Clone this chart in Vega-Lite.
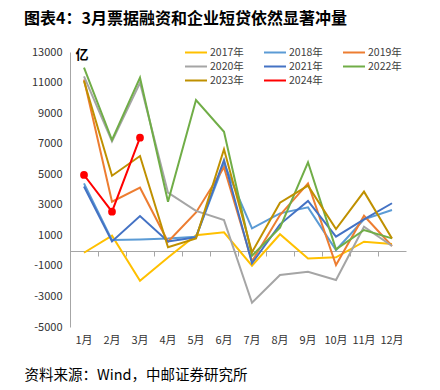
{
  "$schema": "https://vega.github.io/schema/vega-lite/v6.json",
  "width": 336,
  "height": 275,
  "autosize": "none",
  "padding": {"left": 70, "top": 52, "right": 34, "bottom": 63},
  "background": "white",
  "config": {"view": {"stroke": null}, "font": "Noto Sans CJK SC"},
  "title": {
    "text": "图表4：3月票据融资和企业短贷依然显著冲量",
    "anchor": "start",
    "frame": "group",
    "dx": -46,
    "offset": 19,
    "fontSize": 16,
    "fontWeight": "bold",
    "color": "#000000"
  },
  "data": {
    "values": [
      {"m": "1月", "y": "2017年", "v": -140}, {"m": "2月", "y": "2017年", "v": 975}, {"m": "3月", "y": "2017年", "v": -1970}, {"m": "4月", "y": "2017年", "v": -450}, {"m": "5月", "y": "2017年", "v": 1000}, {"m": "6月", "y": "2017年", "v": 1200}, {"m": "7月", "y": "2017年", "v": -990}, {"m": "8月", "y": "2017年", "v": 1070}, {"m": "9月", "y": "2017年", "v": -510}, {"m": "10月", "y": "2017年", "v": -440}, {"m": "11月", "y": "2017年", "v": 580}, {"m": "12月", "y": "2017年", "v": 430},
      {"m": "1月", "y": "2018年", "v": 4400}, {"m": "2月", "y": "2018年", "v": 690}, {"m": "3月", "y": "2018年", "v": 730}, {"m": "4月", "y": "2018年", "v": 790}, {"m": "5月", "y": "2018年", "v": 900}, {"m": "6月", "y": "2018年", "v": 5700}, {"m": "7月", "y": "2018年", "v": 1460}, {"m": "8月", "y": "2018年", "v": 2440}, {"m": "9月", "y": "2018年", "v": 2830}, {"m": "10月", "y": "2018年", "v": 40}, {"m": "11月", "y": "2018年", "v": 2050}, {"m": "12月", "y": "2018年", "v": 2660},
      {"m": "1月", "y": "2019年", "v": 11200}, {"m": "2月", "y": "2019年", "v": 3200}, {"m": "3月", "y": "2019年", "v": 4120}, {"m": "4月", "y": "2019年", "v": 580}, {"m": "5月", "y": "2019年", "v": 2500}, {"m": "6月", "y": "2019年", "v": 5450}, {"m": "7月", "y": "2019年", "v": -700}, {"m": "8月", "y": "2019年", "v": 2330}, {"m": "9月", "y": "2019年", "v": 4400}, {"m": "10月", "y": "2019年", "v": -940}, {"m": "11月", "y": "2019年", "v": 2280}, {"m": "12月", "y": "2019年", "v": 300},
      {"m": "1月", "y": "2020年", "v": 11400}, {"m": "2月", "y": "2020年", "v": 7150}, {"m": "3月", "y": "2020年", "v": 10990}, {"m": "4月", "y": "2020年", "v": 3790}, {"m": "5月", "y": "2020年", "v": 2600}, {"m": "6月", "y": "2020年", "v": 2000}, {"m": "7月", "y": "2020年", "v": -3410}, {"m": "8月", "y": "2020年", "v": -1600}, {"m": "9月", "y": "2020年", "v": -1380}, {"m": "10月", "y": "2020年", "v": -1925}, {"m": "11月", "y": "2020年", "v": 1565}, {"m": "12月", "y": "2020年", "v": 300},
      {"m": "1月", "y": "2021年", "v": 4200}, {"m": "2月", "y": "2021年", "v": 600}, {"m": "3月", "y": "2021年", "v": 2265}, {"m": "4月", "y": "2021年", "v": 600}, {"m": "5月", "y": "2021年", "v": 870}, {"m": "6月", "y": "2021年", "v": 5930}, {"m": "7月", "y": "2021年", "v": -830}, {"m": "8月", "y": "2021年", "v": 1720}, {"m": "9月", "y": "2021年", "v": 3250}, {"m": "10月", "y": "2021年", "v": 910}, {"m": "11月", "y": "2021年", "v": 2050}, {"m": "12月", "y": "2021年", "v": 3100},
      {"m": "1月", "y": "2022年", "v": 11970}, {"m": "2月", "y": "2022年", "v": 7240}, {"m": "3月", "y": "2022年", "v": 11320}, {"m": "4月", "y": "2022年", "v": 3200}, {"m": "5月", "y": "2022年", "v": 9860}, {"m": "6月", "y": "2022年", "v": 7780}, {"m": "7月", "y": "2022年", "v": -330}, {"m": "8月", "y": "2022年", "v": 1500}, {"m": "9月", "y": "2022年", "v": 5780}, {"m": "10月", "y": "2022年", "v": 85}, {"m": "11月", "y": "2022年", "v": 1350}, {"m": "12月", "y": "2022年", "v": 800},
      {"m": "1月", "y": "2023年", "v": 11100}, {"m": "2月", "y": "2023年", "v": 4900}, {"m": "3月", "y": "2023年", "v": 6190}, {"m": "4月", "y": "2023年", "v": 215}, {"m": "5月", "y": "2023年", "v": 800}, {"m": "6月", "y": "2023年", "v": 6630}, {"m": "7月", "y": "2023年", "v": -100}, {"m": "8月", "y": "2023年", "v": 3140}, {"m": "9月", "y": "2023年", "v": 4250}, {"m": "10月", "y": "2023年", "v": 1410}, {"m": "11月", "y": "2023年", "v": 3860}, {"m": "12月", "y": "2023年", "v": 800},
      {"m": "1月", "y": "2024年", "v": 4950}, {"m": "2月", "y": "2024年", "v": 2550}, {"m": "3月", "y": "2024年", "v": 7390}
    ]
  },
  "encoding": {
    "x": {
      "field": "m",
      "type": "ordinal",
      "sort": ["1月", "2月", "3月", "4月", "5月", "6月", "7月", "8月", "9月", "10月", "11月", "12月"],
      "scale": {"type": "band", "paddingInner": 0, "paddingOuter": 0},
      "axis": {
        "orient": "bottom",
        "offset": -76,
        "bandPosition": 0,
        "tickExtra": true,
        "domainColor": "#A6A6A6",
        "tickColor": "#A6A6A6",
        "tickSize": 5,
        "labelPadding": 78,
        "labelAngle": 0,
        "labelFontSize": 11,
        "labelColor": "#333333",
        "title": "资料来源：Wind，中邮证券研究所",
        "titleAnchor": "start",
        "titleAlign": "left",
        "titleBaseline": "middle",
        "titleX": -46,
        "titleY": 124,
        "titleFontSize": 14.5,
        "titleFontWeight": "normal",
        "titleColor": "#000000"
      }
    },
    "y": {
      "field": "v",
      "type": "quantitative",
      "scale": {"domain": [-5000, 13000], "nice": false, "zero": false},
      "axis": {
        "values": [-5000, -3000, -1000, 1000, 3000, 5000, 7000, 9000, 11000, 13000],
        "labelExpr": "datum.value + ''",
        "labelOverlap": false,
        "labelBound": false,
        "grid": false,
        "ticks": false,
        "domainColor": "#A6A6A6",
        "labelPadding": 8,
        "labelFontSize": 11,
        "labelColor": "#333333",
        "title": "亿",
        "titleAngle": 0,
        "titleAlign": "left",
        "titleBaseline": "middle",
        "titleX": 5,
        "titleY": 2,
        "titleFontSize": 13,
        "titleFontWeight": "bold",
        "titleColor": "#000000"
      }
    }
  },
  "layer": [
    {
      "mark": {"type": "line", "strokeWidth": 2},
      "encoding": {
        "color": {
          "field": "y",
          "type": "nominal",
          "scale": {
            "domain": ["2017年", "2018年", "2019年", "2020年", "2021年", "2022年", "2023年", "2024年"],
            "range": ["#FFC000", "#5B9BD5", "#ED7D31", "#A5A5A5", "#4472C4", "#70AD47", "#BF9000", "#FF0000"]
          },
          "legend": {
            "orient": "none",
            "legendX": 118,
            "legendY": -6,
            "columns": 3,
            "direction": "horizontal",
            "title": null,
            "symbolType": "M-1.73,0H2.27",
            "symbolSize": 121,
            "symbolStrokeWidth": 2,
            "labelFontSize": 10.5,
            "labelOffset": 9,
            "labelColor": "#404040",
            "rowPadding": 2,
            "columnPadding": 15
          }
        },
        "order": {"field": "y"}
      }
    },
    {
      "transform": [{"filter": "datum.y == '2024年'"}],
      "mark": {"type": "point", "filled": true, "size": 60, "color": "#FF0000", "opacity": 1}
    }
  ]
}
